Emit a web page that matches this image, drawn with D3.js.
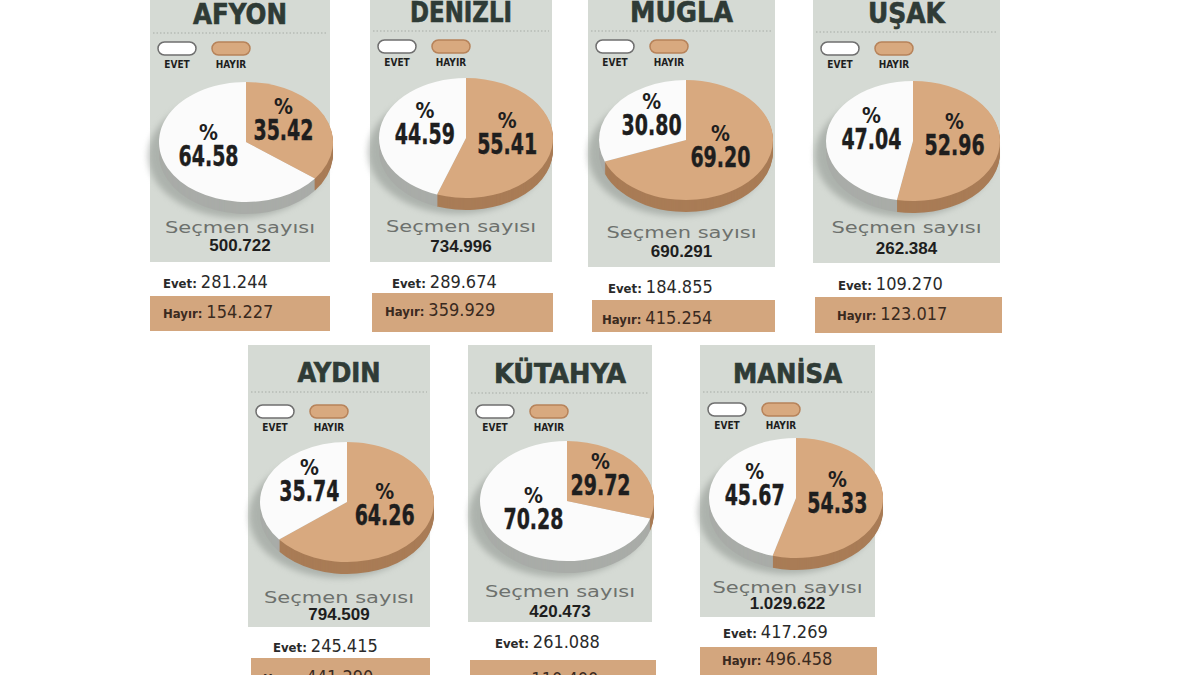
<!DOCTYPE html>
<html>
<head>
<meta charset="utf-8">
<script src="https://cdn.jsdelivr.net/npm/d3@7"></script>
<style>
  body { margin: 0; background: #fff; }
  svg { display: block; }
</style>
</head>
<body>
<svg id="chart" width="1200" height="675"></svg>
<script>
// --- data ---
const iller = ["AFYON", "DENİZLİ", "MUĞLA", "UŞAK", "AYDIN", "KÜTAHYA", "MANİSA"];
const evetYuzde = [64.58, 44.59, 30.80, 47.04, 35.74, 70.28, 45.67];
const hayirYuzde = [35.42, 55.41, 69.20, 52.96, 64.26, 29.72, 54.33];
const secmenSayisi = [500722, 734996, 690291, 262384, 794509, 420473, 1029622];
const evetOy = [281244, 289674, 184855, 109270, 245415, 261088, 417269];
const hayirOy = [154227, 359929, 415254, 123017, 441290, 110400, 496458];
const legendLabels = ["EVET", "HAYIR"];

// --- layout of each card (pixels) ---
const cards = [
  {x: 150, w: 180, top: -5, grayB: 262, titleY: 24, titleW: 94, fs: 28, lineY: 33, legY: 42, cx: 246, cy: 142, secY: 233, numY: 251, evY: 288, evX: 13, tanX: 150, tanW: 180, tanT: 296, tanB: 331, hayY: 318, hayX: 13},
  {x: 370, w: 182, top: -5, grayB: 262, titleY: 22, titleW: 102, fs: 28, lineY: 31, legY: 40, cx: 466, cy: 138, secY: 232, numY: 252, evY: 288, evX: 22, tanX: 372, tanW: 181, tanT: 293, tanB: 332, hayY: 316, hayX: 15},
  {x: 588, w: 187, top: -5, grayB: 267, titleY: 22, titleW: 103, fs: 28, lineY: 31, legY: 40, cx: 686, cy: 140, secY: 238, numY: 257, evY: 293, evX: 20, tanX: 592, tanW: 183, tanT: 300, tanB: 332, hayY: 324, hayX: 14},
  {x: 813, w: 187, top: -5, grayB: 263, titleY: 23, titleW: 77, fs: 28, lineY: 32, legY: 42, cx: 913, cy: 141, secY: 233, numY: 254, evY: 290, evX: 25, tanX: 815, tanW: 187, tanT: 297, tanB: 333, hayY: 320, hayX: 24},
  {x: 248, w: 182, top: 345, grayB: 627, titleY: 382, titleW: 83, fs: 26, lineY: 392, legY: 405, cx: 347, cy: 502, secY: 603, numY: 620, evY: 652, evX: 25, tanX: 251, tanW: 179, tanT: 658, tanB: 680, hayY: 683, hayX: 15},
  {x: 468, w: 184, top: 345, grayB: 622, titleY: 383, titleW: 132, fs: 26, lineY: 393, legY: 405, cx: 567, cy: 501, secY: 597, numY: 617, evY: 648, evX: 27, tanX: 470, tanW: 186, tanT: 660, tanB: 680, hayY: 685, hayX: 20},
  {x: 700, w: 175, top: 345, grayB: 617, titleY: 383, titleW: 109, fs: 26, lineY: 392, legY: 403, cx: 796, cy: 498, secY: 593, numY: 609, evY: 638, evX: 23, tanX: 700, tanW: 177, tanT: 647, tanB: 680, hayY: 665, hayX: 22}
];

const GRAY = "#d5dad4";
const TAN = "#d8a97f";
const TAN_ROW = "#d3a67e";
const TAN_SIDE = "#a97c56";
const WHITE_SIDE = "#a9aca8";
const INK = "#1e1e1e";
const TITLE = "#2f3b36";
const COND = '"Liberation Sans Narrow","Arial Narrow","DejaVu Sans Condensed","Roboto Condensed",sans-serif';
const RX = 87, RY = 60, DEPTH = 12;

const trFormat = d3.formatLocale({decimal: ",", thousands: ".", grouping: [3], currency: ["", ""]}).format(",d");
const pctFormat = d3.format(".2f");

const svg = d3.select("#chart");
svg.append("defs").append("filter").attr("id", "blur")
  .attr("x", "-20%").attr("y", "-20%").attr("width", "140%").attr("height", "140%")
  .append("feGaussianBlur").attr("stdDeviation", 3);

const pie = d3.pie().sort(null).value(d => d.v);
const arc = d3.arc().innerRadius(0).outerRadius(RX);
const labelArc = d3.arc().innerRadius(0).outerRadius(RX * 0.96);
const k = RY / RX;

cards.forEach((L, i) => {
  const g = svg.append("g");

  // gray card
  g.append("rect")
    .attr("x", L.x).attr("y", L.top)
    .attr("width", L.w).attr("height", L.grayB - L.top)
    .attr("fill", GRAY);

  // title
  g.append("text")
    .attr("x", L.x + L.w / 2).attr("y", L.titleY)
    .attr("text-anchor", "middle")
    .attr("font-family", COND).attr("font-weight", "bold")
    .attr("font-size", L.fs).attr("fill", TITLE)
    .attr("stroke", TITLE).attr("stroke-width", 0.6)
    .attr("textLength", L.titleW).attr("lengthAdjust", "spacingAndGlyphs")
    .text(iller[i]);

  g.append("line")
    .attr("x1", L.x + 3).attr("x2", L.x + L.w - 3)
    .attr("y1", L.lineY).attr("y2", L.lineY)
    .attr("stroke", "#a7aca6").attr("stroke-width", 1)
    .attr("stroke-dasharray", "1.5,2");

  // legend
  const legX = [L.x + 8, L.x + 62];
  legendLabels.forEach((lab, j) => {
    g.append("rect")
      .attr("x", legX[j]).attr("y", L.legY)
      .attr("width", 38).attr("height", 13).attr("rx", 6.5)
      .attr("fill", j === 0 ? "#fff" : TAN)
      .attr("stroke", j === 0 ? "#6f6f6f" : "#b7835a").attr("stroke-width", 1.5);
    g.append("text")
      .attr("x", legX[j] + 19).attr("y", L.legY + 26)
      .attr("text-anchor", "middle")
      .attr("font-family", COND).attr("font-weight", "bold")
      .attr("font-size", 10).attr("fill", INK)
      .text(lab);
  });

  // pie (hayır starts at 12 o'clock, clockwise)
  const slices = pie([{k: "hayir", v: hayirYuzde[i]}, {k: "evet", v: evetYuzde[i]}]);
  const pg = g.append("g").attr("transform", `translate(${L.cx},${L.cy})`);

  pg.append("ellipse")
    .attr("cx", -8).attr("cy", DEPTH + 2)
    .attr("rx", RX + 3).attr("ry", RY + 2)
    .attr("fill", "#8c938d").attr("opacity", 0.55)
    .attr("filter", "url(#blur)");

  for (let d = DEPTH; d > 0; d--) {
    pg.append("g")
      .attr("transform", `translate(0,${d}) scale(1,${k})`)
      .selectAll("path")
      .data(slices)
      .join("path")
      .attr("d", arc)
      .attr("fill", s => s.data.k === "hayir" ? TAN_SIDE : WHITE_SIDE);
  }

  pg.append("g")
    .attr("transform", `scale(1,${k})`)
    .selectAll("path")
    .data(slices)
    .join("path")
    .attr("d", arc)
    .attr("fill", s => s.data.k === "hayir" ? TAN : "#fbfbfb");

  slices.forEach(s => {
    const c = labelArc.centroid(s);
    const lx = c[0], ly = c[1] * k;
    pg.append("text")
      .attr("x", lx).attr("y", ly - 15)
      .attr("text-anchor", "middle")
      .attr("font-family", COND).attr("font-weight", "bold")
      .attr("font-size", 21).attr("fill", INK)
      .text("%");
    pg.append("text")
      .attr("x", lx).attr("y", ly + 11)
      .attr("text-anchor", "middle")
      .attr("font-family", COND).attr("font-weight", "bold")
      .attr("font-size", 28).attr("fill", INK)
      .attr("stroke", INK).attr("stroke-width", 0.4)
      .attr("textLength", 60).attr("lengthAdjust", "spacingAndGlyphs")
      .text(pctFormat(s.data.v));
  });

  // voter count
  g.append("text")
    .attr("x", L.x + L.w / 2).attr("y", L.secY)
    .attr("text-anchor", "middle")
    .attr("font-family", "DejaVu Sans, sans-serif")
    .attr("font-size", 15).attr("fill", "#6d716d")
    .attr("textLength", 150).attr("lengthAdjust", "spacingAndGlyphs")
    .text("Seçmen sayısı");
  g.append("text")
    .attr("x", L.x + L.w / 2).attr("y", L.numY)
    .attr("text-anchor", "middle")
    .attr("font-family", "Liberation Sans, Arial, sans-serif").attr("font-weight", "bold")
    .attr("font-size", 17).attr("fill", INK)
    .text(trFormat(secmenSayisi[i]));

  // evet row
  const ev = g.append("text")
    .attr("x", L.x + L.evX).attr("y", L.evY)
    .attr("fill", "#2a2a2a");
  ev.append("tspan")
    .attr("font-family", COND).attr("font-weight", "bold").attr("font-size", 13)
    .text("Evet:");
  ev.append("tspan")
    .attr("font-family", COND).attr("font-size", 18)
    .attr("dx", 4)
    .text(trFormat(evetOy[i]));

  // hayır row
  g.append("rect")
    .attr("x", L.tanX).attr("y", L.tanT)
    .attr("width", L.tanW).attr("height", L.tanB - L.tanT)
    .attr("fill", TAN_ROW);
  const hy = g.append("text")
    .attr("x", L.x + L.hayX).attr("y", L.hayY)
    .attr("fill", "#3a2a1e");
  hy.append("tspan")
    .attr("font-family", COND).attr("font-weight", "bold").attr("font-size", 13)
    .text("Hayır:");
  hy.append("tspan")
    .attr("font-family", COND).attr("font-size", 18)
    .attr("dx", 4)
    .text(trFormat(hayirOy[i]));
});
</script>
</body>
</html>
